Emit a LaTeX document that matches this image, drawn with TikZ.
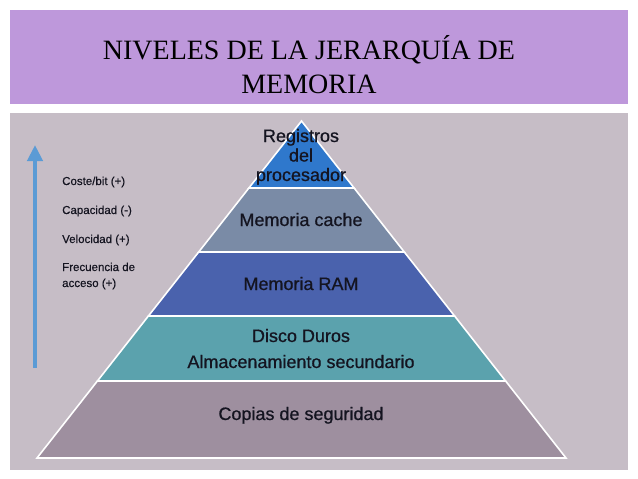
\documentclass[tikz,border=0pt]{standalone}
\usepackage{fontspec}
\setmainfont{Liberation Sans}
\newfontfamily\titlefont{Liberation Serif}
\newfontfamily\lvlfont[FakeBold=0.7]{Liberation Sans}
\newfontfamily\sidefont[FakeBold=0.4]{Liberation Sans}
\usetikzlibrary{arrows.meta}

\definecolor{titlepurple}{HTML}{BE98DB}
\definecolor{bodygray}{HTML}{C6BDC6}
\definecolor{regblue}{HTML}{2F78CC}
\definecolor{cachegray}{HTML}{7A8BA6}
\definecolor{ramblue}{HTML}{4A62AD}
\definecolor{discoteal}{HTML}{5BA2AD}
\definecolor{copiasmauve}{HTML}{9E8F9F}
\definecolor{arrowblue}{HTML}{5B9BD5}
\definecolor{inktext}{HTML}{141420}

\begin{document}
\begin{tikzpicture}[x=1pt, y=-1pt,
  layer/.style={draw=white, line width=1.6pt, line join=miter},
  lvl/.style={font=\lvlfont\fontsize{18}{20}\selectfont, text=inktext, anchor=base, inner sep=0pt, align=center},
  side/.style={font=\sidefont\fontsize{11.5}{16}\selectfont, text=inktext, anchor=base west, inner sep=0pt, align=left}]
\useasboundingbox (0,0) rectangle (638,479);

% banners
\fill[titlepurple] (10,10) rectangle (628,104);
\fill[bodygray] (10,113) rectangle (628,470);
\node[font=\titlefont\fontsize{28}{34}\selectfont, text=black, align=center, anchor=base, inner sep=0pt] (title) at (309,93)
  {NIVELES DE LA JERARQUÍA DE\\MEMORIA};

% pyramid, top to bottom
\filldraw[layer, fill=regblue] (301.5,121) -- (354.1,188) -- (248.9,188) -- cycle;
\filldraw[layer, fill=cachegray] (248.9,188) -- (354.1,188) -- (404.3,252) -- (198.7,252) -- cycle;
\filldraw[layer, fill=ramblue] (198.7,252) -- (404.3,252) -- (454.6,316) -- (148.4,316) -- cycle;
\filldraw[layer, fill=discoteal] (148.4,316) -- (454.6,316) -- (505.6,381) -- (97.4,381) -- cycle;
\filldraw[layer, fill=copiasmauve] (97.4,381) -- (505.6,381) -- (566,458) -- (37,458) -- cycle;

% last line of each text sits on the given base
\node[lvl, font=\lvlfont\fontsize{18}{19.5}\selectfont] (reg) at (301,181) {Registros\\del\\procesador};
\node[lvl] (cache) at (301,226) {Memoria cache};
\node[lvl] (ram) at (301,290) {Memoria RAM};
\node[lvl, font=\lvlfont\fontsize{18}{26}\selectfont] (disco) at (301,368) {Disco Duros\\Almacenamiento secundario};
\node[lvl] (copias) at (301,420) {Copias de seguridad};

% left side
\coordinate (arrlo) at (35,368);
\coordinate (arrhi) at (35,145);
\draw[arrowblue, line width=4pt, -{Triangle[width=15pt, length=16pt]}] (arrlo) -- (arrhi);

\node[side] (coste) at (62,185) {Coste/bit (+)};
\node[side] (capac) at (62,214) {Capacidad (-)};
\node[side] (veloc) at (62,243) {Velocidad (+)};
\node[side] (frec) at (62,287) {Frecuencia de\\acceso (+)};
\end{tikzpicture}
\end{document}
